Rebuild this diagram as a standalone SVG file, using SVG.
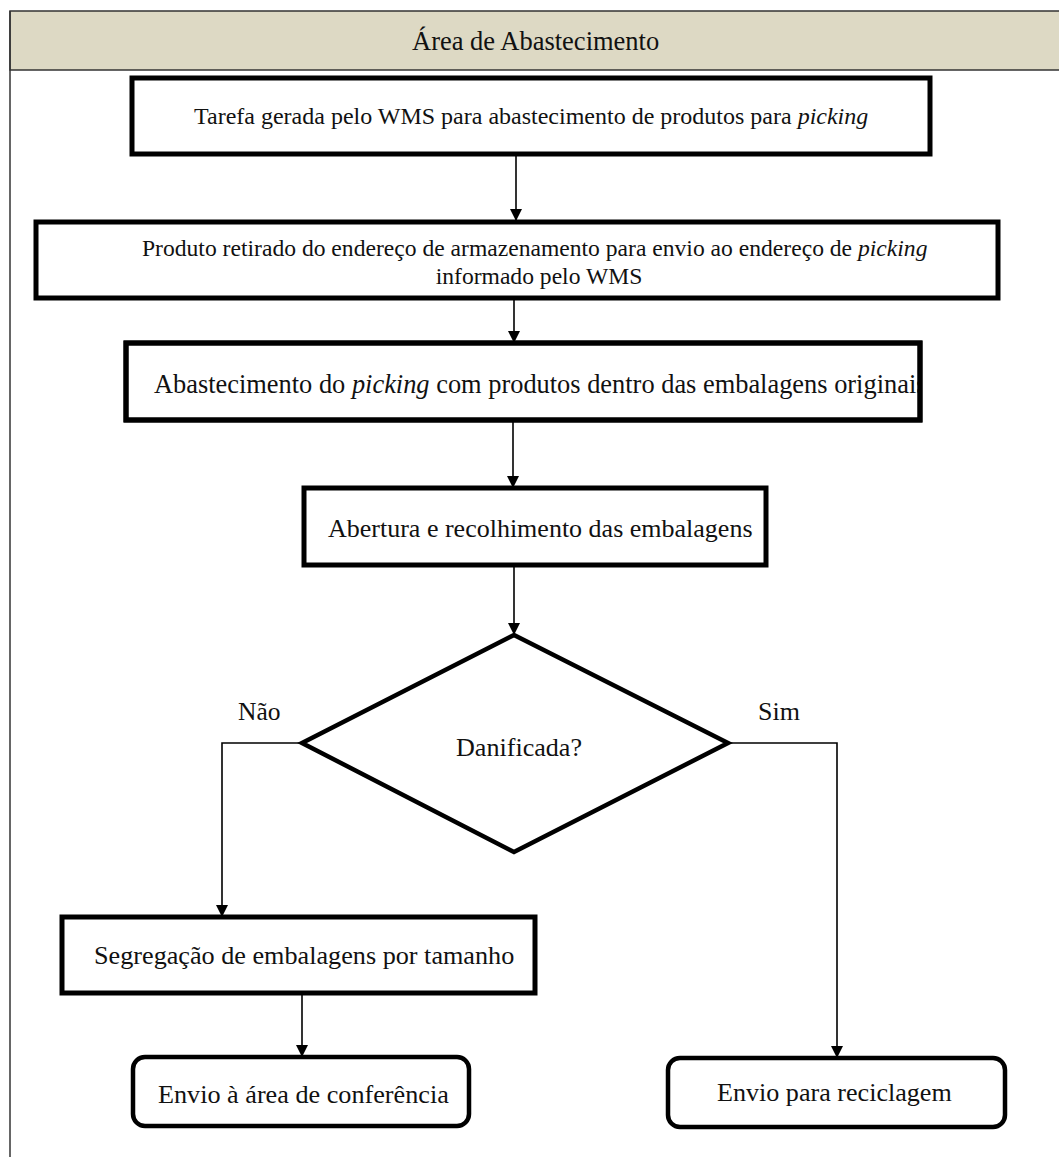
<svg xmlns="http://www.w3.org/2000/svg" width="1059" height="1157" viewBox="0 0 1059 1157">
  <style>
    text { font-family: "Liberation Serif", "Times New Roman", serif; fill: #111; }
    .box { fill: #fff; stroke: #000; stroke-width: 5; }
    .rbox { fill: #fff; stroke: #000; stroke-width: 4.5; }
    .dia { fill: #fff; stroke: #000; stroke-width: 4.5; stroke-linejoin: miter; }
    .conn { fill: none; stroke: #000; stroke-width: 1.6; }
    .frame { fill: none; stroke: #333; stroke-width: 1.5; }
    .it { font-style: italic; }
  </style>
  <defs>
    <marker id="arrow" markerWidth="12" markerHeight="14" refX="12" refY="6" orient="auto" markerUnits="userSpaceOnUse">
      <path d="M0,0 L12,6 L0,12 Z" fill="#000"/>
    </marker>
    <clipPath id="clip3">
      <rect x="126" y="343" width="794" height="77"/>
    </clipPath>
  </defs>

  <rect width="1059" height="1157" fill="#fff"/>

  <g id="frame">
    <rect x="10" y="11" width="1060" height="59" fill="#DDD9C4" stroke="#333" stroke-width="1.5"/>
    <line x1="10" y1="11" x2="10" y2="1157" class="frame"/>
    <text x="412" y="50" font-size="26.5">Área de Abastecimento</text>
  </g>

  <g id="connectors">
    <line x1="516" y1="154" x2="516" y2="221" class="conn" marker-end="url(#arrow)"/>
    <line x1="514" y1="298" x2="514" y2="343" class="conn" marker-end="url(#arrow)"/>
    <line x1="513" y1="420" x2="513" y2="488" class="conn" marker-end="url(#arrow)"/>
    <line x1="514" y1="565" x2="514" y2="635" class="conn" marker-end="url(#arrow)"/>
    <polyline points="302,743 222,743 222,917" class="conn" marker-end="url(#arrow)"/>
    <polyline points="728,743 837,743 837,1058" class="conn" marker-end="url(#arrow)"/>
    <line x1="302" y1="993" x2="302" y2="1057" class="conn" marker-end="url(#arrow)"/>
    <text x="238" y="720" font-size="25.5">Não</text>
    <text x="758" y="720" font-size="26">Sim</text>
  </g>

  <g id="node1">
    <rect x="132" y="78" width="798" height="76" class="box"/>
    <text x="194" y="124" font-size="24">Tarefa gerada pelo WMS para abastecimento de produtos para <tspan class="it">picking</tspan></text>
  </g>

  <g id="node2">
    <rect x="36" y="222" width="962" height="76" class="box"/>
    <text x="142" y="256" font-size="23.6">Produto retirado do endereço de armazenamento para envio ao endereço de <tspan class="it">picking</tspan></text>
    <text x="539" y="284" font-size="23.6" text-anchor="middle">informado pelo WMS</text>
  </g>

  <g id="node3">
    <rect x="126" y="343" width="794" height="77" class="box"/>
    <text x="154" y="393" font-size="26.4" clip-path="url(#clip3)">Abastecimento do <tspan class="it">picking</tspan> com produtos dentro das embalagens originais</text>
    <rect x="126" y="343" width="794" height="77" fill="none" stroke="#000" stroke-width="5"/>
  </g>

  <g id="node4">
    <rect x="304" y="488" width="462" height="77" class="box"/>
    <text x="328" y="537" font-size="26">Abertura e recolhimento das embalagens</text>
  </g>

  <g id="node5">
    <polygon points="514,635 728,743 514,852 302,743" class="dia"/>
    <text x="456" y="756" font-size="26.1">Danificada?</text>
  </g>

  <g id="node6">
    <rect x="62" y="917" width="473" height="76" class="box"/>
    <text x="94" y="964" font-size="26.2">Segregação de embalagens por tamanho</text>
  </g>

  <g id="node7">
    <rect x="133" y="1057" width="336" height="69" rx="12" ry="12" class="rbox"/>
    <text x="158" y="1103" font-size="26.2">Envio à área de conferência</text>
  </g>

  <g id="node8">
    <rect x="668" y="1058" width="337" height="69" rx="12" ry="12" class="rbox"/>
    <text x="717" y="1101" font-size="26.1">Envio para reciclagem</text>
  </g>
</svg>
